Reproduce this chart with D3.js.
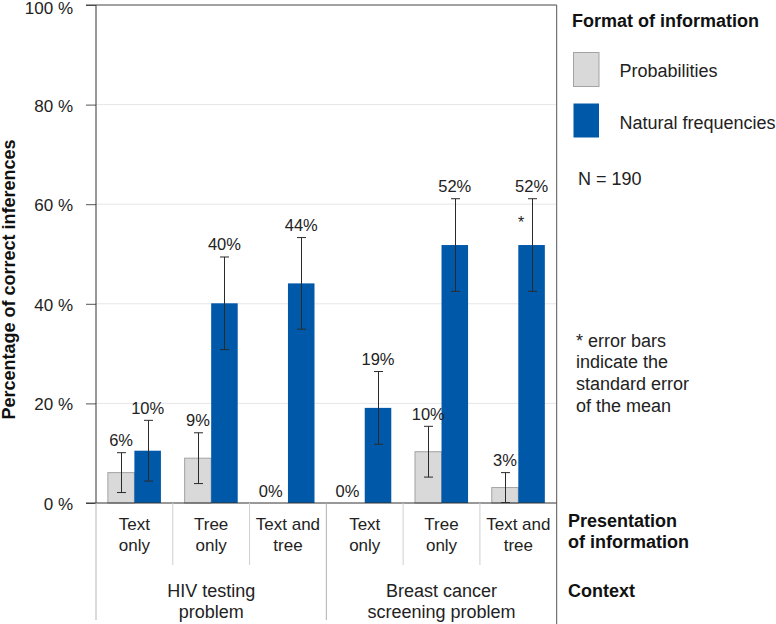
<!DOCTYPE html>
<html>
<head>
<meta charset="utf-8">
<script src="https://cdnjs.cloudflare.com/ajax/libs/d3/7.8.5/d3.min.js"></script>
<style>
  html, body { margin: 0; padding: 0; background: #fff; }
  svg { display: block; font-family: "Liberation Sans", Arial, sans-serif; }
</style>
</head>
<body>
<svg id="chart" width="776" height="624"></svg>
<script>
// ---- data ----
const presentation = [["Text", "only"], ["Tree", "only"], ["Text and", "tree"], ["Text", "only"], ["Tree", "only"], ["Text and", "tree"]];
const contexts = [["HIV testing", "problem"], ["Breast cancer", "screening problem"]];
const seriesNames = ["Probabilities", "Natural frequencies"];
const probValues = [6.1, 9.0, 0, 0, 10.3, 3.1];
const probErrors = [4.0, 5.1, 0, 0, 5.1, 3.0];
const probLabels = ["6%", "9%", "0%", "0%", "10%", "3%"];
const natValues = [10.5, 40.1, 44.1, 19.1, 51.8, 51.8];
const natErrors = [6.1, 9.3, 9.2, 7.3, 9.3, 9.3];
const natLabels = ["10%", "40%", "44%", "19%", "52%", "52%"];
const yTicks = [0, 20, 40, 60, 80, 100];
const noteLines = ["* error bars", "indicate the", "standard error", "of the mean"];

// ---- layout ----
const svg = d3.select("#chart");
const pLeft = 96, pRight = 556.7, pTop = 5, pBottom = 503;
const colors = { "Probabilities": "#d9d9d9", "Natural frequencies": "#0058a8" };
const strokes = { "Probabilities": "#a3a3a3", "Natural frequencies": "#0058a8" };

const y = d3.scaleLinear().domain([0, 100]).range([pBottom, pTop]);
const x = d3.scaleBand().domain(d3.range(presentation.length)).range([pLeft, pRight]).padding(0);
const xs = d3.scaleBand().domain(seriesNames).range([0, x.bandwidth()]).paddingInner(0).paddingOuter(0.447);

const rows = [];
presentation.forEach((p, i) => {
  rows.push({ i, s: "Probabilities", v: probValues[i], e: probErrors[i], lab: probLabels[i] });
  rows.push({ i, s: "Natural frequencies", v: natValues[i], e: natErrors[i], lab: natLabels[i] });
});

// gridlines
svg.append("g").selectAll("line").data(yTicks.filter(t => t > 0 && t < 100)).join("line")
  .attr("x1", pLeft).attr("x2", pRight).attr("y1", d => y(d)).attr("y2", d => y(d))
  .attr("stroke", "#e6e6e6").attr("stroke-width", 1);

// bars
svg.append("g").selectAll("rect").data(rows.filter(d => d.v > 0)).join("rect")
  .attr("x", d => x(d.i) + xs(d.s))
  .attr("width", xs.bandwidth())
  .attr("y", d => y(d.v))
  .attr("height", d => y(0) - y(d.v))
  .attr("fill", d => colors[d.s])
  .attr("stroke", d => strokes[d.s])
  .attr("stroke-width", d => d.s === "Probabilities" ? 1 : 0);

// error bars
const eb = svg.append("g").attr("stroke", "#2a2a2a").attr("stroke-width", 1);
rows.filter(d => d.e > 0).forEach(d => {
  const cx = Math.round(x(d.i) + xs(d.s) + xs.bandwidth() / 2) + 0.5;
  const y1 = y(d.v + d.e), y2 = y(Math.max(0, d.v - d.e));
  eb.append("line").attr("x1", cx).attr("x2", cx).attr("y1", y1).attr("y2", y2);
  eb.append("line").attr("x1", cx - 4.5).attr("x2", cx + 4.5).attr("y1", y1).attr("y2", y1);
  eb.append("line").attr("x1", cx - 4.5).attr("x2", cx + 4.5).attr("y1", y2).attr("y2", y2);
});

// value labels
svg.append("g").selectAll("text").data(rows).join("text")
  .attr("x", d => x(d.i) + xs(d.s) + xs.bandwidth() / 2 - (d.v === 0 ? 4 : 0))
  .attr("y", d => y(d.v + d.e) - 6.5)
  .attr("text-anchor", "middle")
  .attr("font-size", 16.5)
  .attr("fill", "#222")
  .text(d => d.lab);

// asterisk
svg.append("text")
  .attr("x", x(5) + xs("Natural frequencies") + xs.bandwidth() / 2 - 10.5)
  .attr("y", y(natValues[5] + natErrors[5]) + 29)
  .attr("text-anchor", "middle").attr("font-size", 16).attr("fill", "#222").text("*");

// y axis
const yAxis = svg.append("g").attr("transform", `translate(${pLeft},0)`)
  .call(d3.axisLeft(y).tickValues(yTicks).tickFormat(d => d + " %").tickSize(10).tickPadding(13));
yAxis.select(".domain").remove();
yAxis.selectAll(".tick line").attr("stroke", "#555");
yAxis.selectAll(".tick text").attr("font-size", 17).attr("fill", "#222")
  .attr("font-family", "Liberation Sans, Arial, sans-serif")
  .attr("dy", d => d === 100 ? "0.5em" : "0.38em");

// box lines
const frame = svg.append("g");
frame.append("line").attr("x1", pLeft).attr("x2", pLeft).attr("y1", pTop).attr("y2", pBottom).attr("stroke", "#333");
frame.append("line").attr("x1", pLeft - 10).attr("x2", pRight).attr("y1", pTop).attr("y2", pTop).attr("stroke", "#444");
frame.append("line").attr("x1", pLeft - 10).attr("x2", pRight).attr("y1", pBottom).attr("y2", pBottom).attr("stroke", "#333");
frame.append("line").attr("x1", pRight).attr("x2", pRight).attr("y1", pTop).attr("y2", 624).attr("stroke", "#555");
// below-axis separators
frame.append("line").attr("x1", pLeft).attr("x2", pLeft).attr("y1", pBottom).attr("y2", 620).attr("stroke", "#b5b5b5");
[1, 2, 4, 5].forEach(i => {
  frame.append("line").attr("x1", x(i)).attr("x2", x(i)).attr("y1", pBottom).attr("y2", 565).attr("stroke", "#cfcfcf");
});
frame.append("line").attr("x1", x(3)).attr("x2", x(3)).attr("y1", pBottom).attr("y2", 620).attr("stroke", "#b0b0b0");

// category labels
const cat = svg.append("g").attr("font-size", 17).attr("fill", "#222").attr("text-anchor", "middle");
presentation.forEach((lines, i) => {
  lines.forEach((ln, k) => {
    cat.append("text").attr("x", x(i) + x.bandwidth() / 2).attr("y", 530 + k * 21).text(ln);
  });
});
// context labels
const ctx = svg.append("g").attr("font-size", 18).attr("fill", "#222").attr("text-anchor", "middle");
contexts.forEach((lines, j) => {
  const cx = (x(j * 3) + x(j * 3 + 2) + x.bandwidth()) / 2;
  lines.forEach((ln, k) => {
    ctx.append("text").attr("x", cx).attr("y", 597 + k * 21).text(ln);
  });
});

// y title
svg.append("text")
  .attr("transform", "translate(15,279.5) rotate(-90)")
  .attr("text-anchor", "middle").attr("font-size", 18).attr("font-weight", "bold").attr("fill", "#111")
  .text("Percentage of correct inferences");

// legend
const lg = svg.append("g").attr("fill", "#111");
lg.append("text").attr("x", 572).attr("y", 27).attr("font-size", 18).attr("font-weight", "bold").text("Format of information");
seriesNames.forEach((s, k) => {
  lg.append("rect").attr("x", 573.5).attr("y", 52.5 + k * 51).attr("width", 25.5).attr("height", 34)
    .attr("fill", colors[s]).attr("stroke", strokes[s]).attr("stroke-width", s === "Probabilities" ? 1 : 0);
  lg.append("text").attr("x", 619.5).attr("y", 77 + k * 52).attr("font-size", 18).attr("fill", "#222").text(s);
});
lg.append("text").attr("x", 578).attr("y", 185).attr("font-size", 18).attr("fill", "#222").text("N = 190");
noteLines.forEach((ln, k) => {
  lg.append("text").attr("x", 576).attr("y", 346.7 + k * 21.7).attr("font-size", 18).attr("fill", "#222").text(ln);
});
lg.append("text").attr("x", 568).attr("y", 526.7).attr("font-size", 18).attr("font-weight", "bold").text("Presentation");
lg.append("text").attr("x", 568).attr("y", 548.3).attr("font-size", 18).attr("font-weight", "bold").text("of information");
lg.append("text").attr("x", 568).attr("y", 597.3).attr("font-size", 18).attr("font-weight", "bold").text("Context");
</script>
</body>
</html>
